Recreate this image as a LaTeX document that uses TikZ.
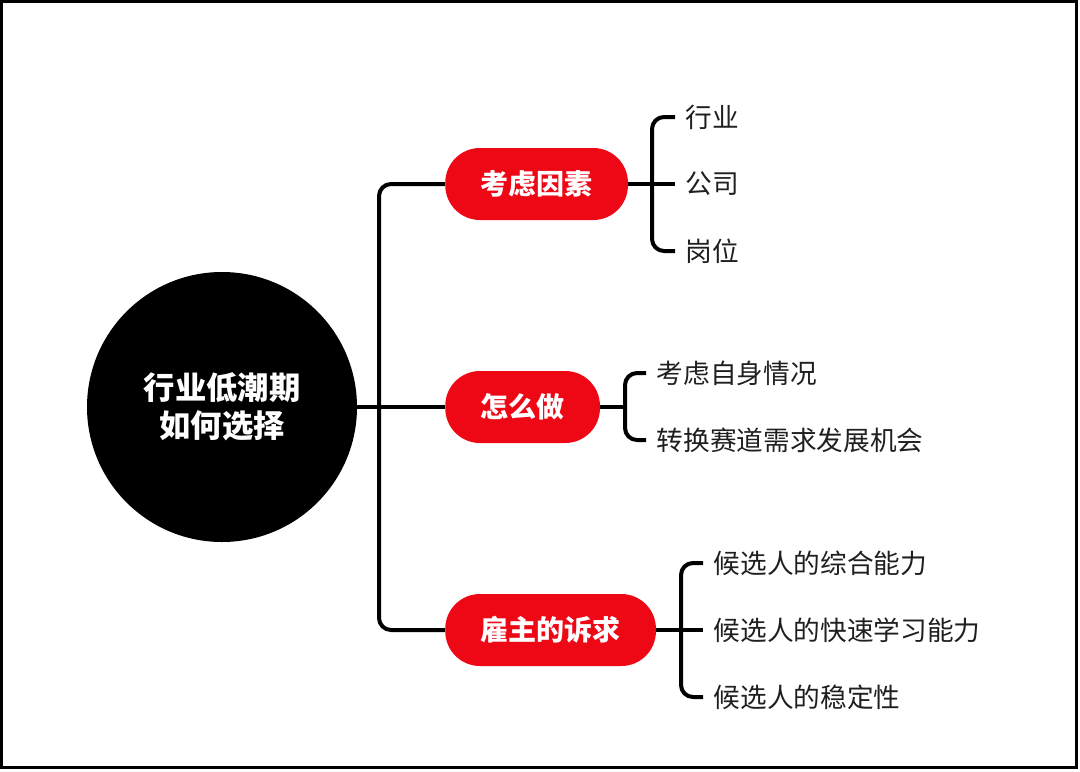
\documentclass[tikz,border=0pt]{standalone}
\usepackage{fontspec}
\usepackage{xcolor}
\newfontfamily\cjk{Noto Sans CJK SC}
\definecolor{boxred}{RGB}{238,8,22}
\tikzset{
  topic/.style={circle,fill=black,text=white,minimum size=202.5pt,inner sep=0pt,
    align=center,font=\cjk\bfseries\fontsize{23.5}{28.5}\selectfont},
  branchbox/.style={rectangle,rounded corners=26pt,fill=boxred,text=white,anchor=west,
    minimum height=54pt,inner xsep=26.5pt,font=\cjk\bfseries\fontsize{21}{24}\selectfont},
  leaf/.style={anchor=west,inner xsep=8pt,inner ysep=2pt,text=black!88,
    font=\cjk\fontsize{20}{22}\selectfont},
  link/.style={line width=3pt,rounded corners=9pt}
}
\begin{document}
\begin{tikzpicture}[x=0.75pt,y=-0.75pt]
\useasboundingbox (0,0) rectangle (1080,771);
\draw[line width=2.5pt] (1.7,1.7) rectangle (1076.5,767.5);
\node[topic] (root) at (222,407) {行业低潮期\\如何选择};
\node[branchbox] (b1) at (445,184) {考虑因素};
\node[branchbox] (b2) at (445,407) {怎么做};
\node[branchbox] (b3) at (445,630) {雇主的诉求};
\coordinate (k0) at (379,407);
\draw[link] (root.east) -- (b2.west);
\draw[link] (b1.west) -| (k0) |- (b3.west);
% first branch
\node[leaf] (l11) at (675,117) {行业};
\node[leaf] (l12) at (675,184) {公司};
\node[leaf] (l13) at (675,251) {岗位};
\coordinate (k1) at (652,184);
\draw[link] (b1.east) -- (l12.west);
\draw[link] (l11.west) -| (k1) |- (l13.west);
% second branch
\node[leaf] (l21) at (646,373) {考虑自身情况};
\node[leaf] (l22) at (646,440) {转换赛道需求发展机会};
\coordinate (k2) at (625,407);
\draw[link] (b2.east) -- (k2);
\draw[link] (l21.west) -| (k2) |- (l22.west);
% third branch
\node[leaf] (l31) at (703,563) {候选人的综合能力};
\node[leaf] (l32) at (703,630) {候选人的快速学习能力};
\node[leaf] (l33) at (703,697) {候选人的稳定性};
\coordinate (k3) at (681,630);
\draw[link] (b3.east) -- (l32.west);
\draw[link] (l31.west) -| (k3) |- (l33.west);
\end{tikzpicture}
\end{document}
